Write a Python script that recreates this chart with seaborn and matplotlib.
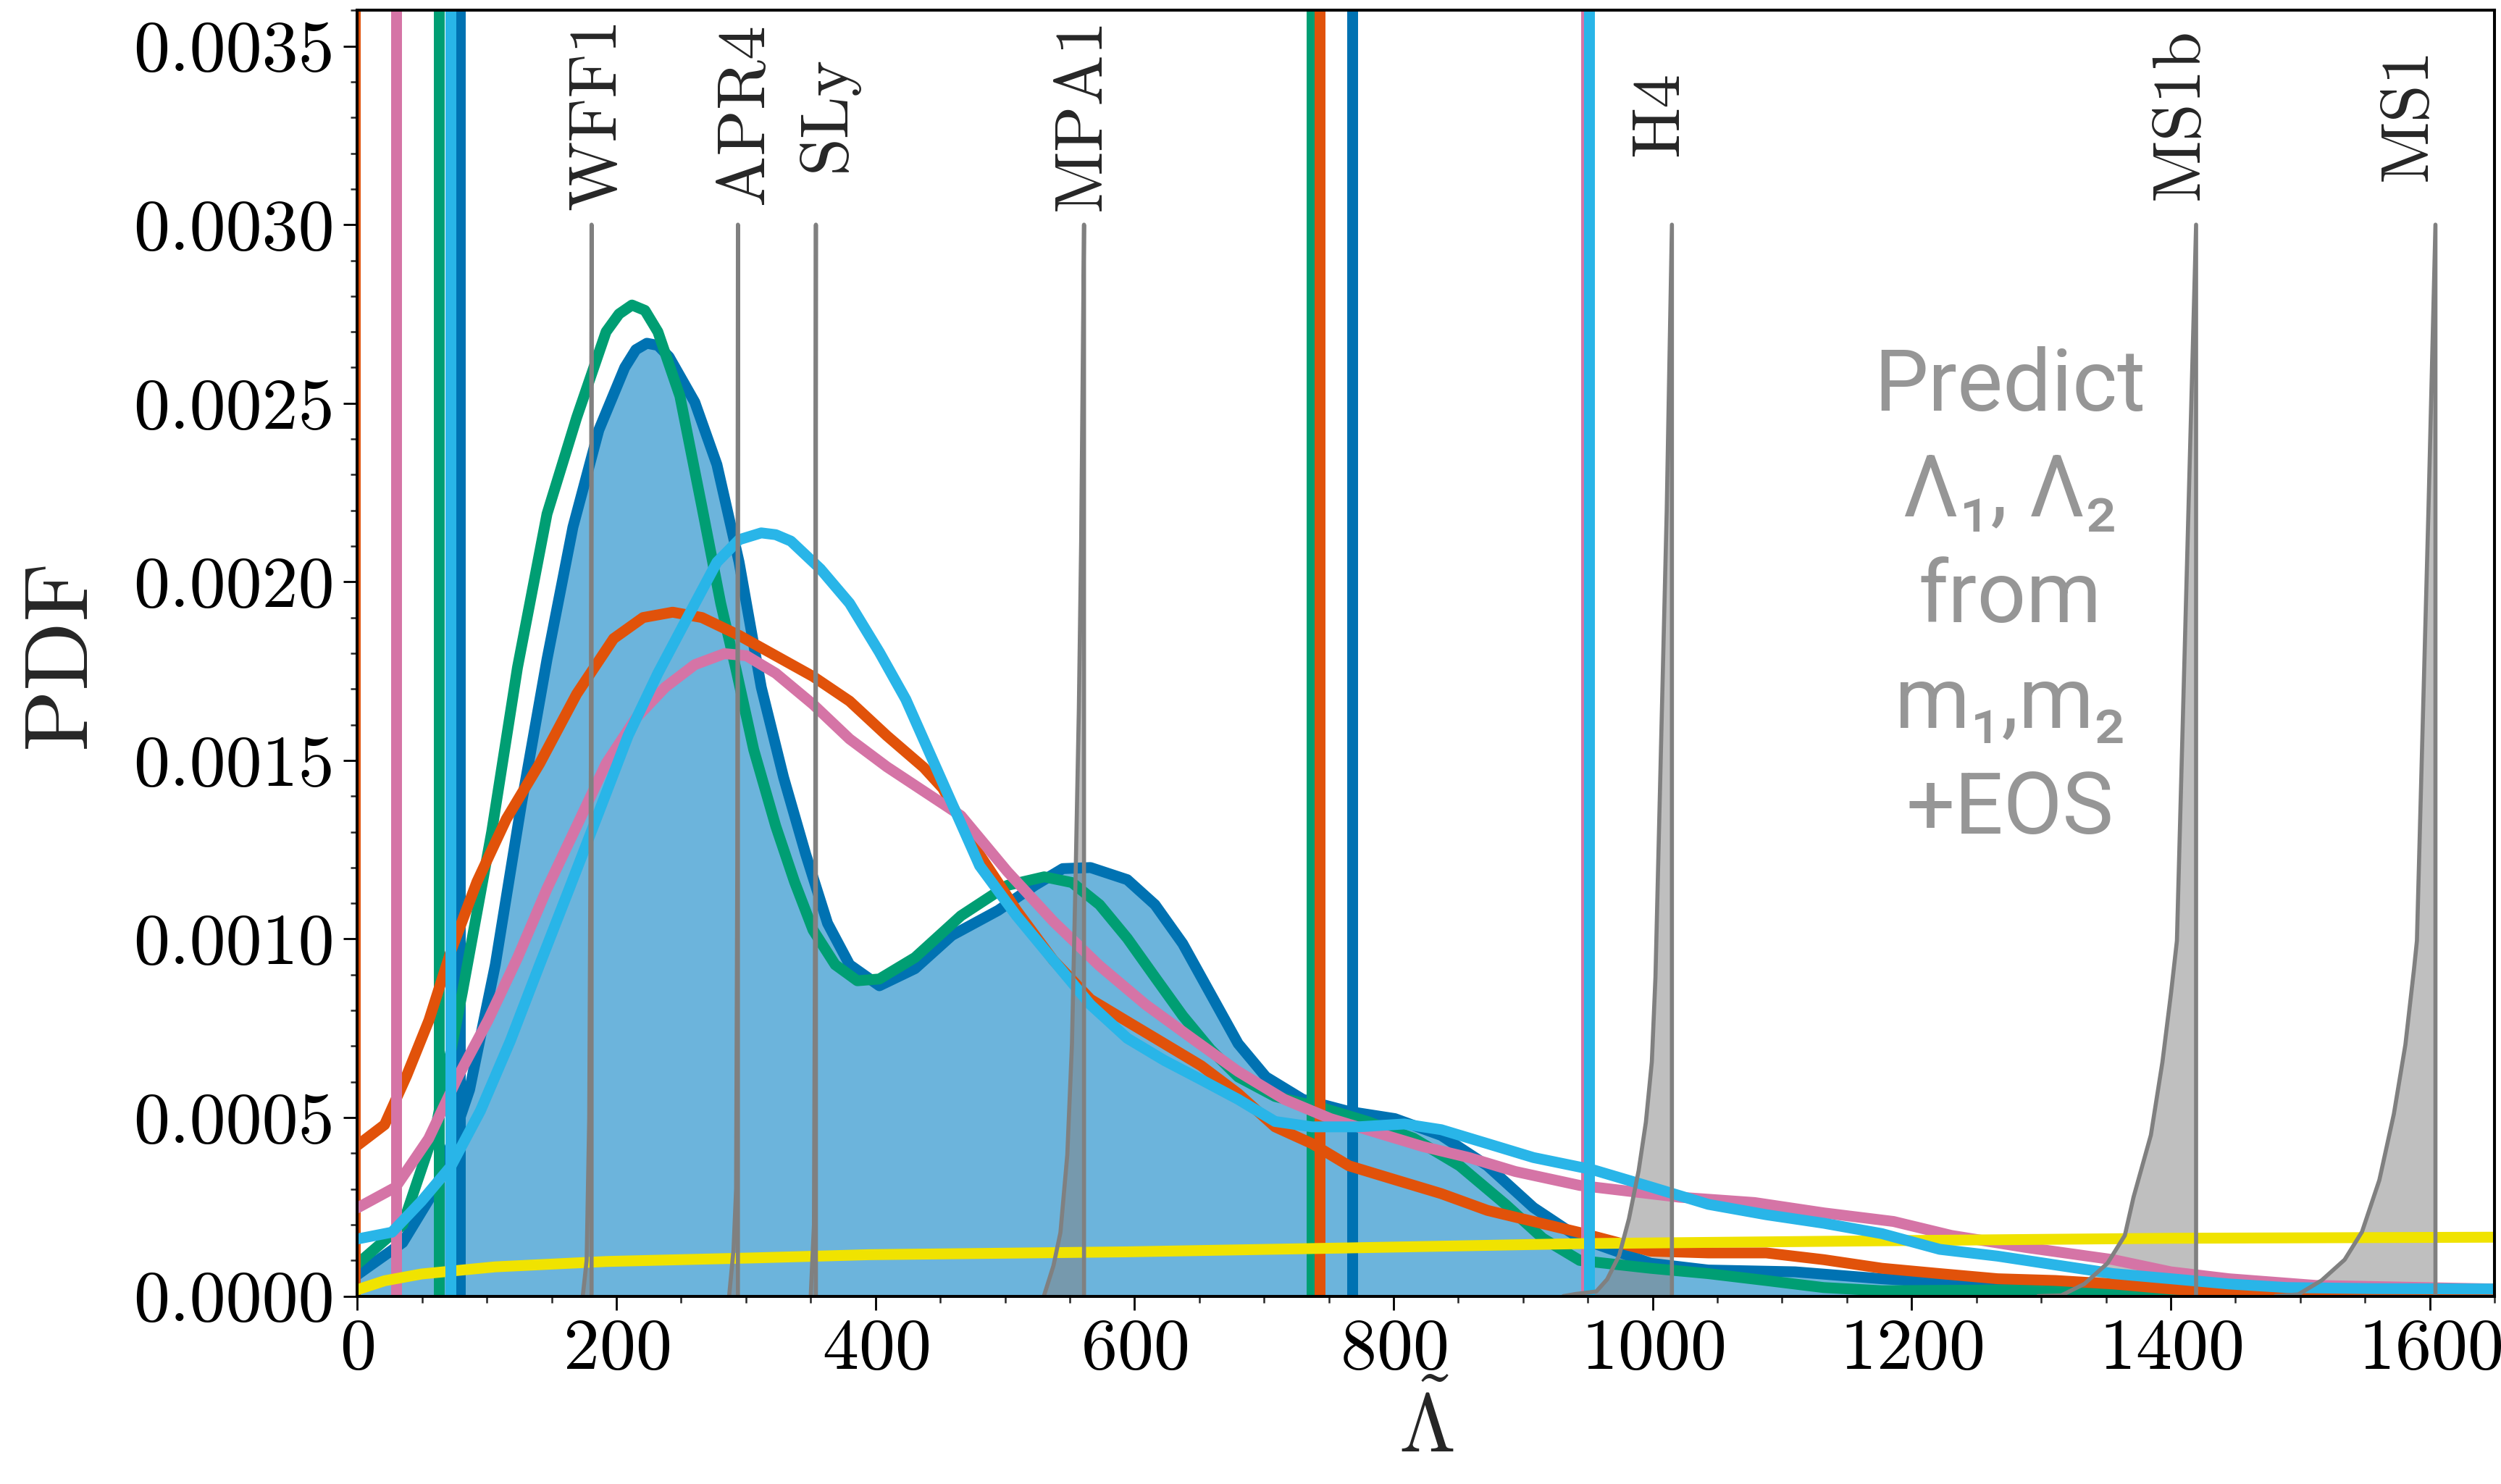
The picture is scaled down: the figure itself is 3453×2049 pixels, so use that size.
import matplotlib
matplotlib.use("Agg")
import matplotlib.pyplot as plt
from matplotlib.ticker import MultipleLocator, FormatStrFormatter
import seaborn as sns

# ---- curves (Lambda-tilde, PDF) ----
lam_dblue = [0, 35, 61, 86.6, 106.5, 126.5, 146.4, 166.4, 186.4, 206.4, 215, 223.5, 232, 240.6,
             260.5, 277.6, 294.7, 311.8, 329, 346, 363, 380, 403, 430.5, 459, 494.7, 523,
             544.6, 566, 594.4, 615.8, 637.2, 658.6, 680, 701.4, 729.9, 765.5, 801, 836.8,
             872.5, 908, 943.7, 998.4, 1043, 1110, 1177, 1244, 1311, 1378, 1445, 1550, 1650]
pdf_dblue = [0.00006, 0.00015, 0.000305, 0.000578, 0.000928, 0.001375, 0.001783, 0.002153,
             0.002425, 0.0026, 0.00265, 0.002668, 0.002662, 0.00263, 0.002503, 0.002328,
             0.002055, 0.001705, 0.001453, 0.001239, 0.001044, 0.000928, 0.000869, 0.000917,
             0.00101, 0.00108, 0.00115, 0.001197, 0.0012, 0.001166, 0.001096, 0.000987,
             0.000847, 0.000707, 0.000614, 0.000551, 0.000517, 0.000497, 0.00045, 0.000365,
             0.000248, 0.000162, 0.000092, 0.000073, 0.000068, 0.0000486, 0.000034, 0.000024,
             0.000015, 0.00001, 0.000003, 0.0]

lam_green = [0, 35, 61, 81, 103.7, 123.6, 146.4, 169.3, 192, 202, 212, 222, 232, 249, 266,
             280.5, 292, 306, 323, 337.5, 351.8, 368.9, 386, 403, 430.5, 466, 501.8, 530.3,
             551.7, 573, 594.4, 615.8, 637.2, 658.6, 680, 708.5, 744.1, 779.8, 815.5, 851,
             886.7, 915.2, 943.7, 998.4, 1043, 1087.7, 1132, 1177, 1300, 1450, 1550, 1650]
pdf_green = [0.00009, 0.0002, 0.00048, 0.00085, 0.0013, 0.00176, 0.00219, 0.00246, 0.0027,
             0.00275, 0.002775, 0.00276, 0.0027, 0.00252, 0.00221, 0.00194, 0.00176, 0.00153,
             0.001316, 0.00116, 0.001025, 0.000928, 0.000883, 0.000888, 0.000948, 0.001065,
             0.00115, 0.001174, 0.001158, 0.001096, 0.001002, 0.000893, 0.000785, 0.000691,
             0.000614, 0.000559, 0.000528, 0.000489, 0.000442, 0.000365, 0.000256, 0.000162,
             0.0001, 0.000078, 0.000063, 0.0000437, 0.000024, 0.000015, 0.000018, 0.00001,
             0.000003, 0.0]

lam_orange = [0, 21, 38, 55.2, 72.3, 92.3, 115, 140.7, 169.3, 197.8, 220.6, 243.4, 266, 294.7,
              323, 351.8, 380, 408.8, 437.3, 451.9, 480.4, 508.9, 537.4, 566, 594.4, 623,
              651.5, 680, 708.5, 737, 765.5, 801, 836.8, 872.5, 908, 943.7, 998.4, 1043,
              1087.7, 1132.3, 1177, 1221.7, 1266.4, 1311, 1355.7, 1400, 1445, 1490, 1650]
pdf_orange = [0.000422, 0.00048, 0.000617, 0.000772, 0.000967, 0.00116, 0.001336, 0.001491,
              0.001686, 0.001841, 0.0019, 0.001915, 0.0019, 0.00185, 0.001793, 0.001735,
              0.001666, 0.001569, 0.00148, 0.001422, 0.001236, 0.00108, 0.00094, 0.000831,
              0.000769, 0.000707, 0.000645, 0.000567, 0.000474, 0.000427, 0.000365, 0.000326,
              0.000287, 0.00024, 0.000209, 0.000178, 0.000126, 0.000121, 0.000121, 0.000102,
              0.000078, 0.000063, 0.0000486, 0.0000437, 0.000034, 0.00002, 0.00001, 0.0, 0.0]

lam_pink = [0, 29.5, 55, 78, 100.8, 123.6, 146.4, 169.3, 192, 215, 237.7, 260.5, 283.4, 300.4,
            323, 351.8, 380, 408.8, 430.5, 466, 501.8, 537.4, 573, 608.7, 644.3, 680, 715.6,
            751.3, 786.9, 822.5, 858.2, 893.9, 943.7, 1020.7, 1078.7, 1132.3, 1186, 1230.6,
            1288.7, 1355.7, 1400, 1445, 1512, 1650]
pdf_pink = [0.000247, 0.000305, 0.000441, 0.000617, 0.000772, 0.000947, 0.001141, 0.001316,
            0.001491, 0.001618, 0.001705, 0.001768, 0.001799, 0.001793, 0.001744, 0.001657,
            0.00156, 0.001482, 0.00143, 0.001345, 0.001189, 0.001049, 0.000925, 0.000816,
            0.000722, 0.000629, 0.000551, 0.000497, 0.000458, 0.000419, 0.000388, 0.000349,
            0.00031, 0.000277, 0.000262, 0.000233, 0.000209, 0.00017, 0.000136, 0.000102,
            0.000068, 0.0000486, 0.00003, 0.00002]

lam_lblue = [0, 26.7, 49.5, 72.3, 95, 118, 140.7, 163.6, 186.4, 209, 232, 254.8, 277.6, 294.7,
             311.8, 323, 334.7, 357.5, 380, 403, 423.4, 451.9, 480.4, 508.9, 537.4, 566,
             594.4, 623, 651.5, 680, 708.5, 737, 772.6, 808.3, 836.8, 872.5, 908, 953.7, 998.4,
             1043, 1087.7, 1132.3, 1177, 1221.7, 1266.4, 1311, 1355.7, 1400.3, 1445, 1489.7,
             1556.6, 1650]
pdf_lblue = [0.00016, 0.000179, 0.000266, 0.000364, 0.000519, 0.000714, 0.000928, 0.001141,
             0.001355, 0.001569, 0.001744, 0.0019, 0.002055, 0.002118, 0.002137, 0.002132,
             0.002114, 0.002036, 0.00194, 0.001803, 0.001671, 0.001438, 0.001205, 0.001065,
             0.00094, 0.000816, 0.000722, 0.00066, 0.000606, 0.000551, 0.000489, 0.000474,
             0.000474, 0.000482, 0.000466, 0.000427, 0.000388, 0.000354, 0.000306, 0.000257,
             0.000228, 0.000204, 0.000175, 0.000131, 0.000112, 0.0000874, 0.000063,
             0.0000486, 0.000034, 0.000024, 0.000021, 0.00002]

lam_yellow = [0, 21, 49.5, 106.5, 192, 306, 394.8, 594.4, 765.5, 943.7, 1177, 1400, 1650]
pdf_yellow = [0.000018, 0.000043, 0.000062, 0.000082, 0.000097, 0.000107, 0.000116, 0.000124,
              0.000135, 0.000147, 0.000155, 0.000162, 0.000165]

# credible-interval bounds (vertical lines)
bounds_dblue = [79, 768]
bounds_green = [63, 737]
bounds_orange = [-2, 743]
bounds_pink = [30, 949]
bounds_lblue = [72, 951]

# ---- EOS predictions (grey peaks) ----
eos_names = ["WFF1", "APR4", "SLy", "MPA1", "H4", "MS1b", "MS1"]
eos_label_x = [186, 300, 363, 560, 1006, 1408, 1584]

wff1_lam = [174, 177, 179, 180.3, 180.8, 180.8]
wff1_pdf = [0, 0.0001, 0.0005, 0.0015, 0.003, 0]
apr4_lam = [287, 290.4, 292.4, 293.3, 293.8, 293.8]
apr4_pdf = [0, 0.00013, 0.0003, 0.0012, 0.003, 0]
sly_lam = [350, 352.5, 353.5, 354, 354]
sly_pdf = [0, 0.0002, 0.0012, 0.003, 0]
mpa1_lam = [530, 537.4, 542.8, 548.1, 551.7, 554.5, 557, 558.8, 561, 561]
mpa1_pdf = [0, 0.000085, 0.000178, 0.000396, 0.000707, 0.001174, 0.00164, 0.00211, 0.003, 0]
h4_lam = [931, 940.7, 956.5, 964.9, 974.2, 981.7, 989.2, 994.8, 999.4, 1002.2, 1010.9,
          1014.9, 1014.9]
h4_pdf = [0, 0.000006, 0.000013, 0.000047, 0.000114, 0.000216, 0.000351, 0.000487, 0.000656,
          0.000893, 0.0022, 0.003, 0]
ms1b_lam = [1297.6, 1315.5, 1333.3, 1351.2, 1364.6, 1371.3, 1384.7, 1393.6, 1400.3, 1404.8,
            1413.7, 1419.6, 1419.6]
ms1b_pdf = [0, 0.000002, 0.000034, 0.000092, 0.00017, 0.000277, 0.000451, 0.000655, 0.00085,
            0.000995, 0.0022, 0.003, 0]
ms1_lam = [1480.8, 1498.6, 1516.5, 1534.3, 1547.7, 1561.1, 1572.3, 1581.2, 1587.9, 1590.1,
           1599, 1604.4, 1604.4]
ms1_pdf = [0, 0.000005, 0.000044, 0.000102, 0.00018, 0.000325, 0.00051, 0.000704, 0.000917,
           0.000995, 0.0022, 0.003, 0]

eos_lam = [wff1_lam, apr4_lam, sly_lam, mpa1_lam, h4_lam, ms1b_lam, ms1_lam]
eos_pdf = [wff1_pdf, apr4_pdf, sly_pdf, mpa1_pdf, h4_pdf, ms1b_pdf, ms1_pdf]

sns.set_theme(style="ticks")
plt.rcParams["font.family"] = ["cmr10"]
plt.rcParams["mathtext.fontset"] = "cm"
plt.rcParams["axes.formatter.use_mathtext"] = True
plt.rcParams["axes.unicode_minus"] = False

fig = plt.figure(figsize=(3453 / 225, 2049 / 225), dpi=225)
ax = fig.add_axes([0.1429, 0.1266, 0.8545, 0.8664])

LW = 4.8
c_dblue = "#0072B2"
c_green = "#009E73"
c_orange = "#E1520A"
c_pink = "#D574A6"
c_yellow = "#F0E300"
c_lblue = "#29B5E8"

ax.fill_between(lam_dblue, pdf_dblue, color="#6cb4dc", lw=0, zorder=1)
for xs, ys in zip(eos_lam, eos_pdf):
    ax.fill_between(xs, ys, color="grey", alpha=0.5, lw=0, zorder=1.5)

series = [
    (lam_dblue, pdf_dblue, bounds_dblue, c_dblue, 2),
    (lam_green, pdf_green, bounds_green, c_green, 3),
    (lam_orange, pdf_orange, bounds_orange, c_orange, 4),
    (lam_pink, pdf_pink, bounds_pink, c_pink, 5),
    (lam_yellow, pdf_yellow, None, c_yellow, 6),
    (lam_lblue, pdf_lblue, bounds_lblue, c_lblue, 7),
]
for xs, ys, bnd, col, z in series:
    sns.lineplot(x=xs, y=ys, ax=ax, color=col, lw=LW, sort=False, estimator=None, zorder=z)
    if bnd is not None:
        for b in bnd:
            ax.axvline(b, color=col, lw=LW, zorder=z)

for xs, ys, name, lx in zip(eos_lam, eos_pdf, eos_names, eos_label_x):
    sns.lineplot(x=xs, y=ys, ax=ax, color="grey", lw=1.8, sort=False, estimator=None, zorder=8)
    ax.text(lx, 0.00331, name, rotation=90, ha="center", va="center", fontsize=30, zorder=9)

# va="baseline" on a multi-line text anchors the last line's baseline
ax.text(1276, 0.001295, "Predict\nΛ₁, Λ₂\nfrom\nm₁,m₂\n+EOS", ha="center", va="baseline",
        multialignment="center", fontsize=38, color="#969696", linespacing=1.37,
        family=["Roboto", "DejaVu Sans"], fontweight="normal", zorder=9)

ax.set_xlim(0, 1650)
ax.set_ylim(0, 0.0036)
ax.xaxis.set_major_locator(MultipleLocator(200))
ax.xaxis.set_minor_locator(MultipleLocator(50))
ax.yaxis.set_major_locator(MultipleLocator(0.0005))
ax.yaxis.set_minor_locator(MultipleLocator(0.0001))
ax.yaxis.set_major_formatter(FormatStrFormatter("%.4f"))
ax.tick_params(which="major", direction="out", length=6, width=0.9, labelsize=32, pad=4,
               colors="black")
ax.tick_params(which="minor", direction="out", length=3, width=0.8)
for s in ax.spines.values():
    s.set_linewidth(1.3)
    s.set_color("black")
    s.set_zorder(10)

ax.set_ylabel("PDF", fontsize=40, labelpad=14)
ax.set_xlabel(r"$\tilde{\Lambda}$", fontsize=36, labelpad=2)

fig.savefig("out.png", dpi=225)
